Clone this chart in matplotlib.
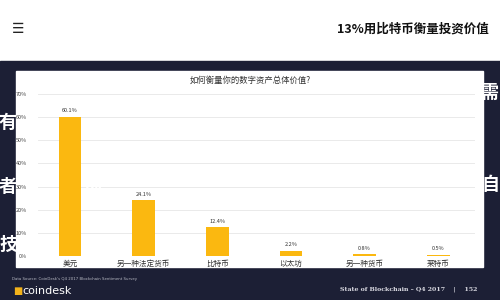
import matplotlib.pyplot as plt
import matplotlib.patches as mpatches

plt.rcParams['font.family'] = ['Noto Sans CJK SC', 'DejaVu Sans']

categories = ['美元', '另一种法定货币', '比特币', '以太坊', '另一种货币', '莱特币']
values = [60.1, 24.1, 12.4, 2.2, 0.8, 0.5]
yticks = [0, 10, 20, 30, 40, 50, 60, 70]
title = '如何衡量你的数字资产总体价值?'
header = '13%用比特币衡量投资价值'
source = "Data Source: CoinDesk's Q4 2017 Blockchain Sentiment Survey"
footer_right = 'State of Blockchain \u2013 Q4 2017    |    152'

W, H = 500, 300
fig = plt.figure(figsize=(5, 3), dpi=100)
fig.patch.set_facecolor('white')


def px(x, y):
    return x / W, 1 - y / H


# dark slide background
fig.patches.append(mpatches.Rectangle((0, 0), 1, 1 - 61 / H, transform=fig.transFigure,
                                      color='#1c1f35', zorder=0))
# white chart panel
x0, y0 = px(16, 267)
x1, y1 = px(483, 71)
fig.patches.append(mpatches.Rectangle((x0, y0), x1 - x0, y1 - y0, transform=fig.transFigure,
                                      color='white', zorder=1))

# header
fig.text(*px(12, 29), '\u2630', fontsize=10, color='#222222', va='center', family='DejaVu Sans')
fig.text(*px(489, 29), header, fontsize=9, fontweight='bold', color='#111111',
         va='center', ha='right')

# chart
ax = fig.add_axes([38 / W, 44 / H, 437 / W, 162 / H])
ax.set_facecolor('none')
ax.set_zorder(2)
xs = list(range(len(categories)))
bars = ax.bar(xs, values, width=0.31, color='#FBB810', zorder=3)
for x, v in zip(xs, values):
    ax.text(x, v + 1.5, f'{v}%', ha='center', va='bottom', fontsize=4, color='#333333')
ax.set_xlim(-0.435, 5.5)
ax.set_ylim(0, 70)
ax.set_yticks(yticks)
ax.set_yticklabels([f'{t}%' for t in yticks], fontsize=4, color='#444444')
ax.set_xticks(xs)
ax.set_xticklabels(categories, fontsize=5.5, color='#333333')
ax.tick_params(length=0, pad=3)
ax.tick_params(axis='y', pad=8)
ax.grid(axis='y', color='#e6e6e6', linewidth=0.6)
ax.set_axisbelow(True)
for s in ax.spines.values():
    s.set_visible(False)

fig.text(*px(250, 80), title, fontsize=6, color='#333333', ha='center', va='center')

# footer
fig.text(*px(12, 279), source, fontsize=2.8, color='#b8bac4', va='center', family='DejaVu Sans')
fig.text(*px(13, 291), '\u25a0', fontsize=7, color='#F2B21B', va='center', family='DejaVu Sans')
fig.text(*px(22, 291), 'coindesk', fontsize=8, color='white', va='center', family='DejaVu Sans')
fig.text(*px(477, 289), footer_right, fontsize=4.5, color='#d8d8e0', va='center', ha='right',
         family='DejaVu Serif', fontweight='bold')

# white calligraphy overlays at the slide edges
for (x, y, ch) in [(8, 122, '有'), (8, 187, '者'), (8, 244, '技'), (92, 192, '到'),
                   (490, 92, '需'), (490, 185, '自')]:
    fig.text(*px(x, y), ch, fontsize=13, color='white', fontweight='bold',
             ha='center', va='center', zorder=5)

fig.savefig('out.png', dpi=100)
